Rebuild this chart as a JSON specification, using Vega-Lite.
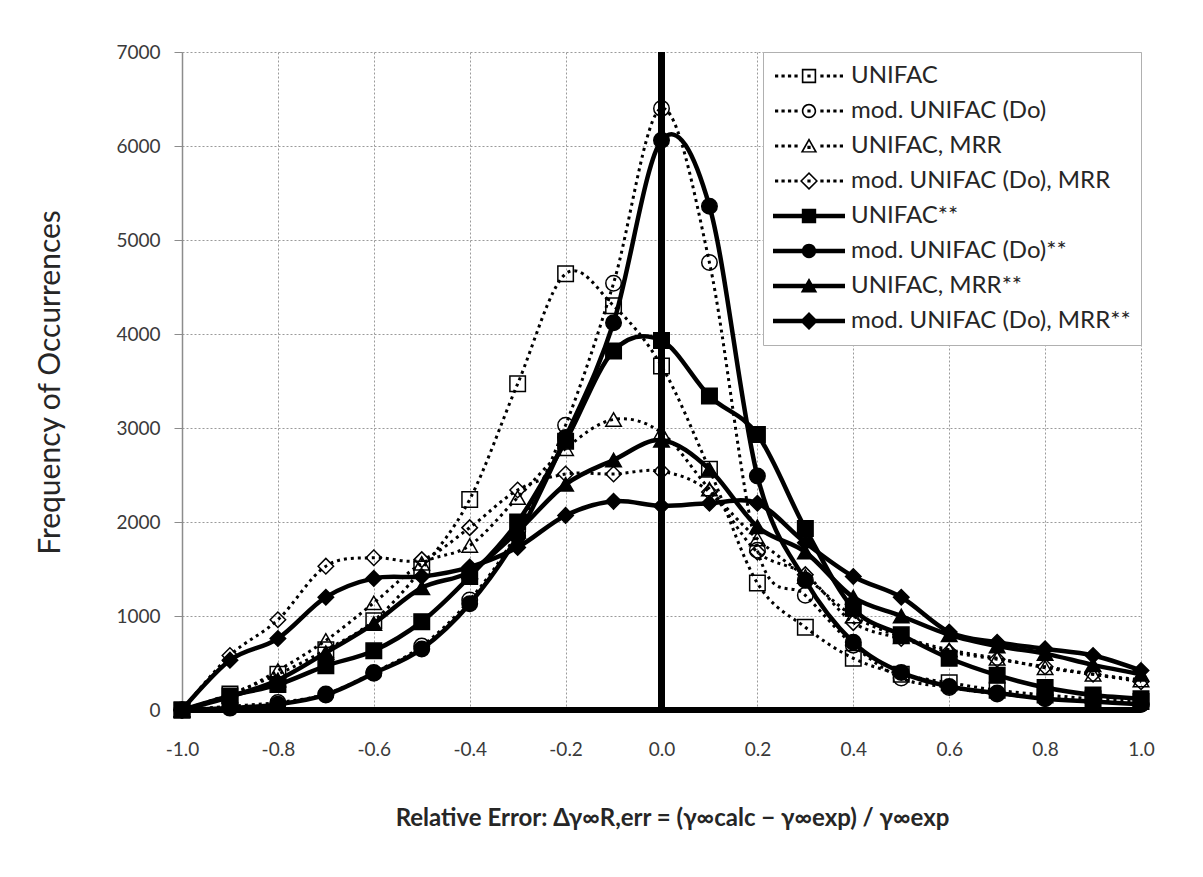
{
  "$schema": "https://vega.github.io/schema/vega-lite/v6.json",
  "width": 959,
  "height": 658,
  "autosize": {"type": "none"},
  "padding": {"left": 182, "top": 52, "right": 62, "bottom": 167},
  "background": "white",
  "config": {
    "font": "Lato",
    "view": {"stroke": null},
    "axis": {"gridColor": "#9a9a9a", "gridDash": [2, 2], "gridWidth": 1, "labelFont": "Lato", "labelColor": "#3a3a3a", "labelFontSize": 19, "titleFont": "Lato", "titleColor": "#262626"}
  },
  "data": {"values": [
    {"series": "UNIFAC", "err": -1, "freq": 0}, {"series": "UNIFAC", "err": -0.9, "freq": 170}, {"series": "UNIFAC", "err": -0.8, "freq": 380}, {"series": "UNIFAC", "err": -0.7, "freq": 640}, {"series": "UNIFAC", "err": -0.6, "freq": 950}, {"series": "UNIFAC", "err": -0.5, "freq": 1500}, {"series": "UNIFAC", "err": -0.4, "freq": 2240}, {"series": "UNIFAC", "err": -0.3, "freq": 3470}, {"series": "UNIFAC", "err": -0.2, "freq": 4640}, {"series": "UNIFAC", "err": -0.1, "freq": 4300}, {"series": "UNIFAC", "err": 0, "freq": 3660}, {"series": "UNIFAC", "err": 0.1, "freq": 2560}, {"series": "UNIFAC", "err": 0.2, "freq": 1350}, {"series": "UNIFAC", "err": 0.3, "freq": 880}, {"series": "UNIFAC", "err": 0.4, "freq": 550}, {"series": "UNIFAC", "err": 0.5, "freq": 380}, {"series": "UNIFAC", "err": 0.6, "freq": 290}, {"series": "UNIFAC", "err": 0.7, "freq": 210}, {"series": "UNIFAC", "err": 0.8, "freq": 160}, {"series": "UNIFAC", "err": 0.9, "freq": 120}, {"series": "UNIFAC", "err": 1, "freq": 90},
    {"series": "mod. UNIFAC (Do)", "err": -1, "freq": 0}, {"series": "mod. UNIFAC (Do)", "err": -0.9, "freq": 40}, {"series": "mod. UNIFAC (Do)", "err": -0.8, "freq": 80}, {"series": "mod. UNIFAC (Do)", "err": -0.7, "freq": 170}, {"series": "mod. UNIFAC (Do)", "err": -0.6, "freq": 400}, {"series": "mod. UNIFAC (Do)", "err": -0.5, "freq": 680}, {"series": "mod. UNIFAC (Do)", "err": -0.4, "freq": 1170}, {"series": "mod. UNIFAC (Do)", "err": -0.3, "freq": 1900}, {"series": "mod. UNIFAC (Do)", "err": -0.2, "freq": 3030}, {"series": "mod. UNIFAC (Do)", "err": -0.1, "freq": 4540}, {"series": "mod. UNIFAC (Do)", "err": 0, "freq": 6400}, {"series": "mod. UNIFAC (Do)", "err": 0.1, "freq": 4760}, {"series": "mod. UNIFAC (Do)", "err": 0.2, "freq": 1700}, {"series": "mod. UNIFAC (Do)", "err": 0.3, "freq": 1220}, {"series": "mod. UNIFAC (Do)", "err": 0.4, "freq": 690}, {"series": "mod. UNIFAC (Do)", "err": 0.5, "freq": 340}, {"series": "mod. UNIFAC (Do)", "err": 0.6, "freq": 240}, {"series": "mod. UNIFAC (Do)", "err": 0.7, "freq": 170}, {"series": "mod. UNIFAC (Do)", "err": 0.8, "freq": 130}, {"series": "mod. UNIFAC (Do)", "err": 0.9, "freq": 90}, {"series": "mod. UNIFAC (Do)", "err": 1, "freq": 60},
    {"series": "UNIFAC, MRR", "err": -1, "freq": 0}, {"series": "UNIFAC, MRR", "err": -0.9, "freq": 150}, {"series": "UNIFAC, MRR", "err": -0.8, "freq": 420}, {"series": "UNIFAC, MRR", "err": -0.7, "freq": 740}, {"series": "UNIFAC, MRR", "err": -0.6, "freq": 1140}, {"series": "UNIFAC, MRR", "err": -0.5, "freq": 1560}, {"series": "UNIFAC, MRR", "err": -0.4, "freq": 1750}, {"series": "UNIFAC, MRR", "err": -0.3, "freq": 2260}, {"series": "UNIFAC, MRR", "err": -0.2, "freq": 2780}, {"series": "UNIFAC, MRR", "err": -0.1, "freq": 3090}, {"series": "UNIFAC, MRR", "err": 0, "freq": 2950}, {"series": "UNIFAC, MRR", "err": 0.1, "freq": 2350}, {"series": "UNIFAC, MRR", "err": 0.2, "freq": 1820}, {"series": "UNIFAC, MRR", "err": 0.3, "freq": 1420}, {"series": "UNIFAC, MRR", "err": 0.4, "freq": 1000}, {"series": "UNIFAC, MRR", "err": 0.5, "freq": 780}, {"series": "UNIFAC, MRR", "err": 0.6, "freq": 640}, {"series": "UNIFAC, MRR", "err": 0.7, "freq": 550}, {"series": "UNIFAC, MRR", "err": 0.8, "freq": 450}, {"series": "UNIFAC, MRR", "err": 0.9, "freq": 380}, {"series": "UNIFAC, MRR", "err": 1, "freq": 320},
    {"series": "mod. UNIFAC (Do), MRR", "err": -1, "freq": 0}, {"series": "mod. UNIFAC (Do), MRR", "err": -0.9, "freq": 580}, {"series": "mod. UNIFAC (Do), MRR", "err": -0.8, "freq": 960}, {"series": "mod. UNIFAC (Do), MRR", "err": -0.7, "freq": 1530}, {"series": "mod. UNIFAC (Do), MRR", "err": -0.6, "freq": 1620}, {"series": "mod. UNIFAC (Do), MRR", "err": -0.5, "freq": 1600}, {"series": "mod. UNIFAC (Do), MRR", "err": -0.4, "freq": 1940}, {"series": "mod. UNIFAC (Do), MRR", "err": -0.3, "freq": 2340}, {"series": "mod. UNIFAC (Do), MRR", "err": -0.2, "freq": 2510}, {"series": "mod. UNIFAC (Do), MRR", "err": -0.1, "freq": 2510}, {"series": "mod. UNIFAC (Do), MRR", "err": 0, "freq": 2540}, {"series": "mod. UNIFAC (Do), MRR", "err": 0.1, "freq": 2320}, {"series": "mod. UNIFAC (Do), MRR", "err": 0.2, "freq": 1680}, {"series": "mod. UNIFAC (Do), MRR", "err": 0.3, "freq": 1440}, {"series": "mod. UNIFAC (Do), MRR", "err": 0.4, "freq": 930}, {"series": "mod. UNIFAC (Do), MRR", "err": 0.5, "freq": 760}, {"series": "mod. UNIFAC (Do), MRR", "err": 0.6, "freq": 620}, {"series": "mod. UNIFAC (Do), MRR", "err": 0.7, "freq": 540}, {"series": "mod. UNIFAC (Do), MRR", "err": 0.8, "freq": 460}, {"series": "mod. UNIFAC (Do), MRR", "err": 0.9, "freq": 380}, {"series": "mod. UNIFAC (Do), MRR", "err": 1, "freq": 300},
    {"series": "UNIFAC**", "err": -1, "freq": 0}, {"series": "UNIFAC**", "err": -0.9, "freq": 150}, {"series": "UNIFAC**", "err": -0.8, "freq": 270}, {"series": "UNIFAC**", "err": -0.7, "freq": 470}, {"series": "UNIFAC**", "err": -0.6, "freq": 630}, {"series": "UNIFAC**", "err": -0.5, "freq": 940}, {"series": "UNIFAC**", "err": -0.4, "freq": 1420}, {"series": "UNIFAC**", "err": -0.3, "freq": 2000}, {"series": "UNIFAC**", "err": -0.2, "freq": 2860}, {"series": "UNIFAC**", "err": -0.1, "freq": 3820}, {"series": "UNIFAC**", "err": 0, "freq": 3930}, {"series": "UNIFAC**", "err": 0.1, "freq": 3340}, {"series": "UNIFAC**", "err": 0.2, "freq": 2930}, {"series": "UNIFAC**", "err": 0.3, "freq": 1930}, {"series": "UNIFAC**", "err": 0.4, "freq": 1080}, {"series": "UNIFAC**", "err": 0.5, "freq": 800}, {"series": "UNIFAC**", "err": 0.6, "freq": 550}, {"series": "UNIFAC**", "err": 0.7, "freq": 370}, {"series": "UNIFAC**", "err": 0.8, "freq": 240}, {"series": "UNIFAC**", "err": 0.9, "freq": 160}, {"series": "UNIFAC**", "err": 1, "freq": 120},
    {"series": "mod. UNIFAC (Do)**", "err": -1, "freq": 0}, {"series": "mod. UNIFAC (Do)**", "err": -0.9, "freq": 20}, {"series": "mod. UNIFAC (Do)**", "err": -0.8, "freq": 60}, {"series": "mod. UNIFAC (Do)**", "err": -0.7, "freq": 160}, {"series": "mod. UNIFAC (Do)**", "err": -0.6, "freq": 390}, {"series": "mod. UNIFAC (Do)**", "err": -0.5, "freq": 650}, {"series": "mod. UNIFAC (Do)**", "err": -0.4, "freq": 1130}, {"series": "mod. UNIFAC (Do)**", "err": -0.3, "freq": 1850}, {"series": "mod. UNIFAC (Do)**", "err": -0.2, "freq": 2900}, {"series": "mod. UNIFAC (Do)**", "err": -0.1, "freq": 4120}, {"series": "mod. UNIFAC (Do)**", "err": 0, "freq": 6060}, {"series": "mod. UNIFAC (Do)**", "err": 0.1, "freq": 5360}, {"series": "mod. UNIFAC (Do)**", "err": 0.2, "freq": 2490}, {"series": "mod. UNIFAC (Do)**", "err": 0.3, "freq": 1380}, {"series": "mod. UNIFAC (Do)**", "err": 0.4, "freq": 720}, {"series": "mod. UNIFAC (Do)**", "err": 0.5, "freq": 400}, {"series": "mod. UNIFAC (Do)**", "err": 0.6, "freq": 250}, {"series": "mod. UNIFAC (Do)**", "err": 0.7, "freq": 180}, {"series": "mod. UNIFAC (Do)**", "err": 0.8, "freq": 120}, {"series": "mod. UNIFAC (Do)**", "err": 0.9, "freq": 90}, {"series": "mod. UNIFAC (Do)**", "err": 1, "freq": 60},
    {"series": "UNIFAC, MRR**", "err": -1, "freq": 0}, {"series": "UNIFAC, MRR**", "err": -0.9, "freq": 140}, {"series": "UNIFAC, MRR**", "err": -0.8, "freq": 320}, {"series": "UNIFAC, MRR**", "err": -0.7, "freq": 610}, {"series": "UNIFAC, MRR**", "err": -0.6, "freq": 920}, {"series": "UNIFAC, MRR**", "err": -0.5, "freq": 1300}, {"series": "UNIFAC, MRR**", "err": -0.4, "freq": 1470}, {"series": "UNIFAC, MRR**", "err": -0.3, "freq": 1900}, {"series": "UNIFAC, MRR**", "err": -0.2, "freq": 2400}, {"series": "UNIFAC, MRR**", "err": -0.1, "freq": 2660}, {"series": "UNIFAC, MRR**", "err": 0, "freq": 2870}, {"series": "UNIFAC, MRR**", "err": 0.1, "freq": 2560}, {"series": "UNIFAC, MRR**", "err": 0.2, "freq": 1950}, {"series": "UNIFAC, MRR**", "err": 0.3, "freq": 1680}, {"series": "UNIFAC, MRR**", "err": 0.4, "freq": 1200}, {"series": "UNIFAC, MRR**", "err": 0.5, "freq": 1000}, {"series": "UNIFAC, MRR**", "err": 0.6, "freq": 800}, {"series": "UNIFAC, MRR**", "err": 0.7, "freq": 680}, {"series": "UNIFAC, MRR**", "err": 0.8, "freq": 600}, {"series": "UNIFAC, MRR**", "err": 0.9, "freq": 480}, {"series": "UNIFAC, MRR**", "err": 1, "freq": 380},
    {"series": "mod. UNIFAC (Do), MRR**", "err": -1, "freq": 0}, {"series": "mod. UNIFAC (Do), MRR**", "err": -0.9, "freq": 530}, {"series": "mod. UNIFAC (Do), MRR**", "err": -0.8, "freq": 760}, {"series": "mod. UNIFAC (Do), MRR**", "err": -0.7, "freq": 1200}, {"series": "mod. UNIFAC (Do), MRR**", "err": -0.6, "freq": 1400}, {"series": "mod. UNIFAC (Do), MRR**", "err": -0.5, "freq": 1420}, {"series": "mod. UNIFAC (Do), MRR**", "err": -0.4, "freq": 1520}, {"series": "mod. UNIFAC (Do), MRR**", "err": -0.3, "freq": 1730}, {"series": "mod. UNIFAC (Do), MRR**", "err": -0.2, "freq": 2070}, {"series": "mod. UNIFAC (Do), MRR**", "err": -0.1, "freq": 2220}, {"series": "mod. UNIFAC (Do), MRR**", "err": 0, "freq": 2170}, {"series": "mod. UNIFAC (Do), MRR**", "err": 0.1, "freq": 2200}, {"series": "mod. UNIFAC (Do), MRR**", "err": 0.2, "freq": 2200}, {"series": "mod. UNIFAC (Do), MRR**", "err": 0.3, "freq": 1780}, {"series": "mod. UNIFAC (Do), MRR**", "err": 0.4, "freq": 1420}, {"series": "mod. UNIFAC (Do), MRR**", "err": 0.5, "freq": 1200}, {"series": "mod. UNIFAC (Do), MRR**", "err": 0.6, "freq": 830}, {"series": "mod. UNIFAC (Do), MRR**", "err": 0.7, "freq": 720}, {"series": "mod. UNIFAC (Do), MRR**", "err": 0.8, "freq": 650}, {"series": "mod. UNIFAC (Do), MRR**", "err": 0.9, "freq": 580}, {"series": "mod. UNIFAC (Do), MRR**", "err": 1, "freq": 420}
  ]},
  "resolve": {"scale": {"shape": "independent", "fill": "independent"}},
  "layer": [
    {
      "mark": {"type": "rule", "color": "black", "strokeWidth": 6},
      "encoding": {"x": {"datum": 0, "type": "quantitative", "scale": {"domain": [-1, 1], "nice": false, "zero": false},
        "axis": {"values": [-1, -0.8, -0.6, -0.4, -0.2, 0, 0.2, 0.4, 0.6, 0.8, 1], "labelExpr": "replace(format(datum.value, '.1f'), '\u2212', '-')", "labelFlush": false, "labelBound": false, "grid": true, "domain": false, "ticks": false, "labelPadding": 30, "title": "Relative Error:  Δγ∞R,err = (γ∞calc − γ∞exp) / γ∞exp", "titleFontSize": 24, "titleFontWeight": "bold", "titleX": 490, "titleY": 108, "titleBaseline": "middle", "titleAlign": "center"}}}
    },
    {
      "mark": {"type": "rule", "color": "black", "strokeWidth": 6},
      "encoding": {"y": {"datum": 0, "type": "quantitative", "scale": {"domain": [0, 7000], "nice": false},
        "axis": {"values": [0, 1000, 2000, 3000, 4000, 5000, 6000, 7000], "format": "d", "grid": true, "domain": true, "domainColor": "#8c8c8c", "domainWidth": 1.5, "ticks": true, "tickColor": "#8c8c8c", "tickSize": 8, "labelPadding": 14, "title": "Frequency of Occurrences", "titleFontSize": 30, "titleFontWeight": "normal", "titleX": -132, "titleY": 330, "titleAngle": 270, "titleBaseline": "middle", "titleAlign": "center"}}}
    },
    {
      "transform": [{"filter": "indexof(datum.series, '**') < 0"}],
      "mark": {"type": "line", "interpolate": "cardinal", "color": "black", "strokeWidth": 3, "strokeDash": [3, 4]},
      "encoding": {
        "x": {"field": "err", "type": "quantitative",
          "axis": {"values": [-1, -0.8, -0.6, -0.4, -0.2, 0, 0.2, 0.4, 0.6, 0.8, 1], "labelExpr": "replace(format(datum.value, '.1f'), '\u2212', '-')", "labelFlush": false, "labelBound": false, "grid": true, "domain": false, "ticks": false, "labelPadding": 30, "title": "Relative Error:  Δγ∞R,err = (γ∞calc − γ∞exp) / γ∞exp", "titleFontSize": 24, "titleFontWeight": "bold", "titleX": 490, "titleY": 108, "titleBaseline": "middle", "titleAlign": "center"}},
        "y": {"field": "freq", "type": "quantitative",
          "axis": {"values": [0, 1000, 2000, 3000, 4000, 5000, 6000, 7000], "format": "d", "grid": true, "domain": true, "domainColor": "#8c8c8c", "domainWidth": 1.5, "ticks": true, "tickColor": "#8c8c8c", "tickSize": 8, "labelPadding": 14, "title": "Frequency of Occurrences", "titleFontSize": 30, "titleFontWeight": "normal", "titleX": -132, "titleY": 330, "titleAngle": 270, "titleBaseline": "middle", "titleAlign": "center"}},
        "detail": {"field": "series", "type": "nominal"}
      }
    },
    {
      "transform": [{"filter": "indexof(datum.series, '**') >= 0"}],
      "mark": {"type": "line", "interpolate": "cardinal", "color": "black", "strokeWidth": 4.5},
      "encoding": {
        "x": {"field": "err", "type": "quantitative",
          "axis": {"values": [-1, -0.8, -0.6, -0.4, -0.2, 0, 0.2, 0.4, 0.6, 0.8, 1], "labelExpr": "replace(format(datum.value, '.1f'), '\u2212', '-')", "labelFlush": false, "labelBound": false, "grid": true, "domain": false, "ticks": false, "labelPadding": 30, "title": "Relative Error:  Δγ∞R,err = (γ∞calc − γ∞exp) / γ∞exp", "titleFontSize": 24, "titleFontWeight": "bold", "titleX": 490, "titleY": 108, "titleBaseline": "middle", "titleAlign": "center"}},
        "y": {"field": "freq", "type": "quantitative",
          "axis": {"values": [0, 1000, 2000, 3000, 4000, 5000, 6000, 7000], "format": "d", "grid": true, "domain": true, "domainColor": "#8c8c8c", "domainWidth": 1.5, "ticks": true, "tickColor": "#8c8c8c", "tickSize": 8, "labelPadding": 14, "title": "Frequency of Occurrences", "titleFontSize": 30, "titleFontWeight": "normal", "titleX": -132, "titleY": 330, "titleAngle": 270, "titleBaseline": "middle", "titleAlign": "center"}},
        "detail": {"field": "series", "type": "nominal"}
      }
    },
    {
      "mark": {"type": "point", "size": 240, "strokeWidth": 1.5, "stroke": "black", "color": "black", "opacity": 1},
      "encoding": {
        "x": {"field": "err", "type": "quantitative",
          "axis": {"values": [-1, -0.8, -0.6, -0.4, -0.2, 0, 0.2, 0.4, 0.6, 0.8, 1], "labelExpr": "replace(format(datum.value, '.1f'), '\u2212', '-')", "labelFlush": false, "labelBound": false, "grid": true, "domain": false, "ticks": false, "labelPadding": 30, "title": "Relative Error:  Δγ∞R,err = (γ∞calc − γ∞exp) / γ∞exp", "titleFontSize": 24, "titleFontWeight": "bold", "titleX": 490, "titleY": 108, "titleBaseline": "middle", "titleAlign": "center"}},
        "y": {"field": "freq", "type": "quantitative",
          "axis": {"values": [0, 1000, 2000, 3000, 4000, 5000, 6000, 7000], "format": "d", "grid": true, "domain": true, "domainColor": "#8c8c8c", "domainWidth": 1.5, "ticks": true, "tickColor": "#8c8c8c", "tickSize": 8, "labelPadding": 14, "title": "Frequency of Occurrences", "titleFontSize": 30, "titleFontWeight": "normal", "titleX": -132, "titleY": 330, "titleAngle": 270, "titleBaseline": "middle", "titleAlign": "center"}},
        "shape": {"field": "series", "type": "nominal",
          "scale": {"domain": ["UNIFAC", "mod. UNIFAC (Do)", "UNIFAC, MRR", "mod. UNIFAC (Do), MRR", "UNIFAC**", "mod. UNIFAC (Do)**", "UNIFAC, MRR**", "mod. UNIFAC (Do), MRR**"],
                    "range": ["square", "circle", "triangle-up", "diamond", "square", "circle", "triangle-up", "diamond"]},
          "legend": null},
        "fill": {"field": "series", "type": "nominal",
          "scale": {"domain": ["UNIFAC", "mod. UNIFAC (Do)", "UNIFAC, MRR", "mod. UNIFAC (Do), MRR", "UNIFAC**", "mod. UNIFAC (Do)**", "UNIFAC, MRR**", "mod. UNIFAC (Do), MRR**"],
                    "range": ["transparent", "transparent", "transparent", "transparent", "black", "black", "black", "black"]},
          "legend": null}
      }
    },
    {
      "mark": {"type": "point", "filled": true, "fill": "black", "color": "black", "opacity": 0, "size": 5184, "strokeWidth": 0},
      "encoding": {
        "x": {"field": "err", "type": "quantitative",
          "axis": {"values": [-1, -0.8, -0.6, -0.4, -0.2, 0, 0.2, 0.4, 0.6, 0.8, 1], "labelExpr": "replace(format(datum.value, '.1f'), '\u2212', '-')", "labelFlush": false, "labelBound": false, "grid": true, "domain": false, "ticks": false, "labelPadding": 30, "title": "Relative Error:  Δγ∞R,err = (γ∞calc − γ∞exp) / γ∞exp", "titleFontSize": 24, "titleFontWeight": "bold", "titleX": 490, "titleY": 108, "titleBaseline": "middle", "titleAlign": "center"}},
        "y": {"field": "freq", "type": "quantitative",
          "axis": {"values": [0, 1000, 2000, 3000, 4000, 5000, 6000, 7000], "format": "d", "grid": true, "domain": true, "domainColor": "#8c8c8c", "domainWidth": 1.5, "ticks": true, "tickColor": "#8c8c8c", "tickSize": 8, "labelPadding": 14, "title": "Frequency of Occurrences", "titleFontSize": 30, "titleFontWeight": "normal", "titleX": -132, "titleY": 330, "titleAngle": 270, "titleBaseline": "middle", "titleAlign": "center"}},
        "shape": {"field": "series", "type": "nominal",
          "scale": {"domain": ["UNIFAC", "mod. UNIFAC (Do)", "UNIFAC, MRR", "mod. UNIFAC (Do), MRR", "UNIFAC**", "mod. UNIFAC (Do)**", "UNIFAC, MRR**", "mod. UNIFAC (Do), MRR**"],
                    "range": [
                      "M-0.945,-0.045h0.09v0.09h-0.09Z M-0.765,-0.045h0.09v0.09h-0.09Z M-0.585,-0.045h0.09v0.09h-0.09Z M-0.405,-0.045h0.09v0.09h-0.09Z M-0.045,-0.045h0.09v0.09h-0.09Z M0.315,-0.045h0.09v0.09h-0.09Z M0.495,-0.045h0.09v0.09h-0.09Z M0.675,-0.045h0.09v0.09h-0.09Z M0.855,-0.045h0.09v0.09h-0.09Z M-0.2,-0.2H0.2V0.2H-0.2Z M-0.155,-0.155V0.155H0.155V-0.155Z",
                      "M-0.945,-0.045h0.09v0.09h-0.09Z M-0.765,-0.045h0.09v0.09h-0.09Z M-0.585,-0.045h0.09v0.09h-0.09Z M-0.405,-0.045h0.09v0.09h-0.09Z M-0.045,-0.045h0.09v0.09h-0.09Z M0.315,-0.045h0.09v0.09h-0.09Z M0.495,-0.045h0.09v0.09h-0.09Z M0.675,-0.045h0.09v0.09h-0.09Z M0.855,-0.045h0.09v0.09h-0.09Z M-0.2,0A0.2,0.2 0 1,1 0.2,0A0.2,0.2 0 1,1 -0.2,0Z M-0.155,0A0.155,0.155 0 1,0 0.155,0A0.155,0.155 0 1,0 -0.155,0Z",
                      "M-0.945,-0.045h0.09v0.09h-0.09Z M-0.765,-0.045h0.09v0.09h-0.09Z M-0.585,-0.045h0.09v0.09h-0.09Z M-0.405,-0.045h0.09v0.09h-0.09Z M-0.045,-0.01h0.09v0.09h-0.09Z M0.315,-0.045h0.09v0.09h-0.09Z M0.495,-0.045h0.09v0.09h-0.09Z M0.675,-0.045h0.09v0.09h-0.09Z M0.855,-0.045h0.09v0.09h-0.09Z M0,-0.22L0.23,0.18H-0.23Z M0,-0.13L-0.155,0.145H0.155Z",
                      "M-0.945,-0.045h0.09v0.09h-0.09Z M-0.765,-0.045h0.09v0.09h-0.09Z M-0.585,-0.045h0.09v0.09h-0.09Z M-0.405,-0.045h0.09v0.09h-0.09Z M-0.045,-0.045h0.09v0.09h-0.09Z M0.315,-0.045h0.09v0.09h-0.09Z M0.495,-0.045h0.09v0.09h-0.09Z M0.675,-0.045h0.09v0.09h-0.09Z M0.855,-0.045h0.09v0.09h-0.09Z M0,-0.25L0.25,0L0,0.25L-0.25,0Z M0,-0.19L-0.19,0L0,0.19L0.19,0Z",
                      "M-1,-0.065H1V0.065H-1Z M-0.2,-0.2H0.2V0.2H-0.2Z",
                      "M-1,-0.065H1V0.065H-1Z M-0.2,0A0.2,0.2 0 1,1 0.2,0A0.2,0.2 0 1,1 -0.2,0Z",
                      "M-1,-0.065H1V0.065H-1Z M0,-0.22L0.23,0.18H-0.23Z",
                      "M-1,-0.065H1V0.065H-1Z M0,-0.25L0.25,0L0,0.25L-0.25,0Z"
                    ]},
          "legend": {"orient": "top-right", "offset": 0, "title": null, "padding": 10, "symbolSize": 5184, "symbolOpacity": 1, "symbolStrokeWidth": 0, "symbolFillColor": "black", "labelFont": "Lato", "labelFontSize": 24, "labelColor": "#262626", "labelOffset": 6, "clipHeight": 28, "rowPadding": 7, "fillColor": "white", "strokeColor": "#b0b0b0", "labelLimit": 500}}
      }
    }
  ]
}
